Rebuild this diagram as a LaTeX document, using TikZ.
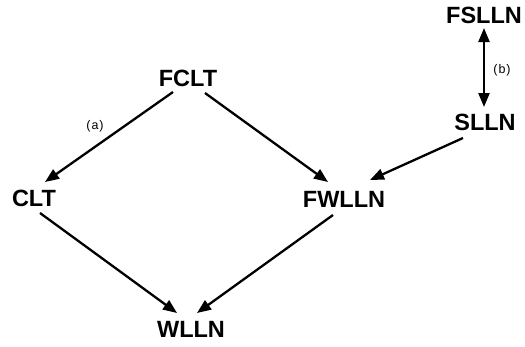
\documentclass[tikz,border=0pt]{standalone}
\usepackage{fontspec}
\setmainfont{Liberation Sans}
\usetikzlibrary{arrows.meta}
\begin{document}
\begin{tikzpicture}[x=1pt,y=-1pt,
  lab/.style={inner sep=0pt,font=\fontsize{23.5}{24}\selectfont\bfseries},
  small/.style={inner sep=0pt,font=\fontsize{12.5}{13}\selectfont\addfontfeature{LetterSpace=8}},
  arr/.style={line width=2.3pt,-{Triangle[length=14pt,width=11pt]}},
  darr/.style={line width=2.3pt,{Triangle[length=14pt,width=11pt]}-{Triangle[length=14pt,width=11pt]}}]
\useasboundingbox[fill=white] (0,0) rectangle (525,346);
\node[lab] (fclt) at (188,78.5) {FCLT};
\node[lab] (clt) at (34,198.5) {CLT};
\node[lab] (fwlln) at (344,199) {FWLLN};
\node[lab] (wlln) at (191,329) {WLLN};
\node[lab] (fslln) at (484,15.5) {FSLLN};
\node[lab] (slln) at (485,122.5) {SLLN};
\node[small] (la) at (95,126) {(a)};
\node[small] (lb) at (502,70) {(b)};
\draw[arr] ([shift={(-15,13.5)}]fclt.center) -- ([shift={(11,-16.5)}]clt.center);
\draw[arr] ([shift={(17,14.5)}]fclt.center) -- ([shift={(-16,-17)}]fwlln.center);
\draw[arr] ([shift={(-22,15.5)}]slln.center) -- ([shift={(26,-19)}]fwlln.center);
\draw[arr] ([shift={(6,14.5)}]clt.center) -- ([shift={(-14,-16)}]wlln.center);
\draw[arr] ([shift={(-11,16)}]fwlln.center) -- ([shift={(6,-16)}]wlln.center);
\draw[darr] ([shift={(0,12.5)}]fslln.center) -- ([shift={(-1,-15.5)}]slln.center);
\end{tikzpicture}
\end{document}
